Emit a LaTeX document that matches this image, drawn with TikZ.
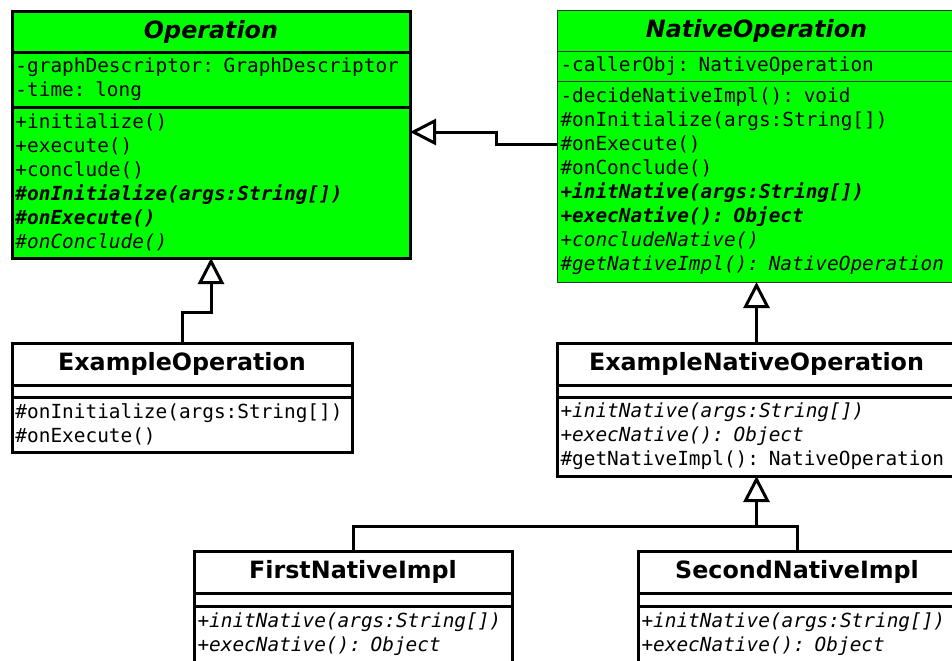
\documentclass[tikz,border=0pt]{standalone}
\usepackage{fontspec}
\usetikzlibrary{positioning,arrows.meta}

\newfontfamily\umlsans{DejaVu Sans}
\newfontfamily\umlmono{DejaVu Sans Mono}
\definecolor{umlgreen}{HTML}{00FF00}
\definecolor{umlgray}{HTML}{333333}

\newcommand{\titlefont}{\umlsans\bfseries\fontsize{11.9}{14}\selectfont}
\newcommand{\memberfont}{\umlmono\fontsize{9.7}{12}\selectfont}

\begin{document}
\begin{tikzpicture}[
  x=0.5pt, y=-0.5pt,
  part/.style={draw, line width=1.5pt, inner sep=0pt, outer sep=0pt, anchor=north},
  thinpart/.style={part, draw=umlgray, line width=0.5pt},
  title/.style={font=\titlefont},
  members/.style={align=left, inner xsep=1.75pt, font=\memberfont},
  inherit/.style={line width=1.5pt, -{Triangle[open, length=13pt, width=13pt]}},
  link/.style={line width=1.5pt}
]

\useasboundingbox (0,0) rectangle (952,660);
\clip (0,0) rectangle (952,660);

% ------------------------------------------------------------
% Abstract base classes
% ------------------------------------------------------------
\node[part, title, fill=umlgreen, minimum width=199pt, minimum height=20.5pt]
  (op) at (211,11) {\itshape Operation};
\node[part, members, fill=umlgreen, below=0pt of op, text width=195.5pt, minimum height=27.5pt]
  (opattr) {-graphDescriptor: GraphDescriptor\\-time: long};
\node[part, members, fill=umlgreen, below=0pt of opattr, text width=195.5pt, minimum height=75.5pt]
  (opmeth) {+initialize()\\+execute()\\+conclude()\\
  {\bfseries\itshape \#onInitialize(args:String[])}\\
  {\bfseries\itshape \#onExecute()}\\
  {\itshape \#onConclude()}};

\node[thinpart, title, fill=umlgreen, minimum width=199.5pt, minimum height=20.5pt]
  (nop) at (756.5,10) {\itshape NativeOperation};
\node[thinpart, members, fill=umlgreen, below=0pt of nop, text width=196pt, minimum height=15pt]
  (nopattr) {-callerObj: NativeOperation};
\node[thinpart, members, fill=umlgreen, below=0pt of nopattr, text width=196pt, minimum height=100.5pt]
  (nopmeth) {-decideNativeImpl(): void\\\#onInitialize(args:String[])\\
  \#onExecute()\\\#onConclude()\\
  {\bfseries\itshape +initNative(args:String[])}\\
  {\bfseries\itshape +execNative(): Object}\\
  {\itshape +concludeNative()}\\
  {\itshape \#getNativeImpl(): NativeOperation}};

% ------------------------------------------------------------
% Example subclasses
% ------------------------------------------------------------
\node[part, title, fill=white, minimum width=170pt, minimum height=21pt]
  (exop) at (182,343) {ExampleOperation};
\node[part, fill=white, below=0pt of exop, minimum width=170pt, minimum height=6pt]
  (exopattr) {};
\node[part, members, fill=white, below=0pt of exopattr, text width=166.5pt, minimum height=27.5pt]
  (exopmeth) {\#onInitialize(args:String[])\\\#onExecute()};

\node[part, title, fill=white, minimum width=199.5pt, minimum height=21pt]
  (exnop) at (756.5,343) {ExampleNativeOperation};
\node[part, fill=white, below=0pt of exnop, minimum width=199.5pt, minimum height=6pt]
  (exnopattr) {};
\node[part, members, fill=white, below=0pt of exnopattr, text width=196pt, minimum height=39.5pt]
  (exnopmeth) {{\itshape +initNative(args:String[])}\\
  {\itshape +execNative(): Object}\\\#getNativeImpl(): NativeOperation};

% ------------------------------------------------------------
% Native implementations
% ------------------------------------------------------------
\node[part, title, fill=white, minimum width=159pt, minimum height=21pt]
  (first) at (353,551) {FirstNativeImpl};
\node[part, fill=white, below=0pt of first, minimum width=159pt, minimum height=6.5pt]
  (firstattr) {};
\node[part, members, fill=white, below=0pt of firstattr, text width=155.5pt, minimum height=28pt]
  (firstmeth) {{\itshape +initNative(args:String[])}\\{\itshape +execNative(): Object}};

\node[part, title, fill=white, minimum width=159pt, minimum height=21pt]
  (second) at (797,551) {SecondNativeImpl};
\node[part, fill=white, below=0pt of second, minimum width=159pt, minimum height=6.5pt]
  (secondattr) {};
\node[part, members, fill=white, below=0pt of secondattr, text width=155.5pt, minimum height=28pt]
  (secondmeth) {{\itshape +initNative(args:String[])}\\{\itshape +execNative(): Object}};

% ------------------------------------------------------------
% Generalizations
% ------------------------------------------------------------
\draw[inherit] (nopmeth.west |- 0,144) -| (496,132) -- (opmeth.east |- 0,132);
\draw[inherit] (exop.north) -- ++(0,-31) -| (opmeth.south);
\draw[inherit] (exnop.north) -- (nopmeth.south);

\coordinate (join) at (exnopmeth.south |- 0,526);
\draw[inherit] (join) -- (exnopmeth.south);
\draw[link] (first.north) |- (join) -| (second.north);

\end{tikzpicture}
\end{document}
